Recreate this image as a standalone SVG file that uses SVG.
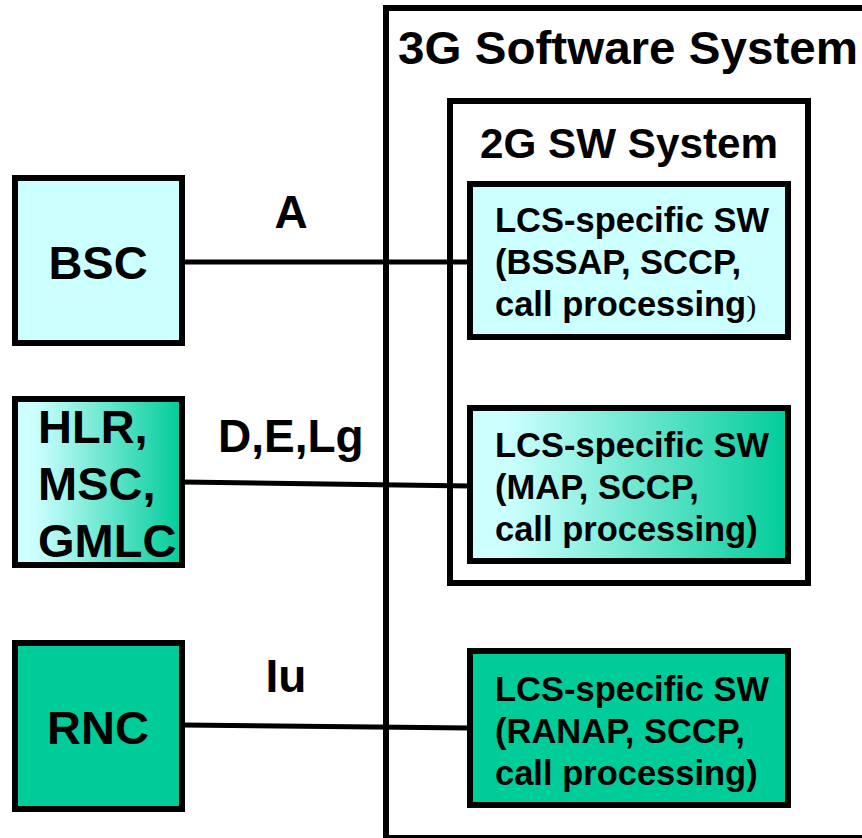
<svg xmlns="http://www.w3.org/2000/svg" width="862" height="838" viewBox="0 0 862 838">
  <style>
    .box { stroke: #000; stroke-width: 6; }
    .frame { fill: none; stroke: #000; stroke-width: 6; }
    .wire { fill: none; stroke: #000; stroke-width: 5; }
    text { font-family: "Liberation Sans", Arial, Helvetica, sans-serif; font-weight: bold; fill: #000; }
    .title { font-size: 47px; }
    .sub { font-size: 42px; }
    .node { font-size: 47px; }
    .iface { font-size: 46px; }
    .sw { font-size: 34.5px; }
  </style>
  <defs>
    <linearGradient id="cyanToGreen" x1="0" y1="0" x2="1" y2="0">
      <stop offset="0.12" stop-color="#ccffff"/>
      <stop offset="1" stop-color="#00cc99"/>
    </linearGradient>
  </defs>

  <rect width="862" height="838" fill="#fff"/>

  <!-- system containers -->
  <g id="sys3g">
    <rect class="frame" x="386" y="8" width="600" height="830"/>
    <text class="title" x="398" y="64" textLength="460" lengthAdjust="spacingAndGlyphs">3G Software System</text>
  </g>
  <g id="sys2g">
    <rect class="frame" x="450" y="101" width="358" height="482"/>
    <text class="sub" x="480" y="158" textLength="298" lengthAdjust="spacingAndGlyphs">2G SW System</text>
  </g>

  <!-- connectors -->
  <g id="connectors">
    <line class="wire" x1="182" y1="262" x2="470" y2="262"/>
    <line class="wire" x1="182" y1="482" x2="470" y2="486"/>
    <line class="wire" x1="182" y1="725" x2="470" y2="728"/>
    <text class="iface" x="291" y="228" text-anchor="middle">A</text>
    <text class="iface" x="218" y="452">D,E,Lg</text>
    <text class="iface" x="286" y="692" text-anchor="middle">Iu</text>
  </g>

  <!-- external network elements -->
  <g id="bsc">
    <rect class="box" x="15" y="178" width="167" height="165" fill="#ccffff"/>
    <text class="node" x="98" y="279" text-anchor="middle">BSC</text>
  </g>
  <g id="hlr">
    <rect class="box" x="15" y="399" width="167" height="166" fill="url(#cyanToGreen)"/>
    <text class="node" x="38" y="443">HLR,</text>
    <text class="node" x="38" y="500">MSC,</text>
    <text class="node" x="38" y="557">GMLC</text>
  </g>
  <g id="rnc">
    <rect class="box" x="15" y="643" width="167" height="166" fill="#00cc99"/>
    <text class="node" x="98" y="744" text-anchor="middle">RNC</text>
  </g>

  <!-- LCS software blocks -->
  <g id="lcsBssap">
    <rect class="box" x="470" y="184" width="318" height="153" fill="#ccffff"/>
    <text class="sw" x="495" y="232">LCS-specific SW</text>
    <text class="sw" x="495" y="274">(BSSAP, SCCP,</text>
    <text class="sw" x="495" y="316">call processing<tspan font-family="'Liberation Serif', 'Times New Roman', serif" font-weight="normal" font-size="30px">)</tspan></text>
  </g>
  <g id="lcsMap">
    <rect class="box" x="470" y="408" width="318" height="153" fill="url(#cyanToGreen)"/>
    <text class="sw" x="495" y="457">LCS-specific SW</text>
    <text class="sw" x="495" y="499">(MAP, SCCP,</text>
    <text class="sw" x="495" y="541">call processing)</text>
  </g>
  <g id="lcsRanap">
    <rect class="box" x="470" y="651" width="318" height="154" fill="#00cc99"/>
    <text class="sw" x="495" y="701">LCS-specific SW</text>
    <text class="sw" x="495" y="743">(RANAP, SCCP,</text>
    <text class="sw" x="495" y="785">call processing)</text>
  </g>
</svg>
